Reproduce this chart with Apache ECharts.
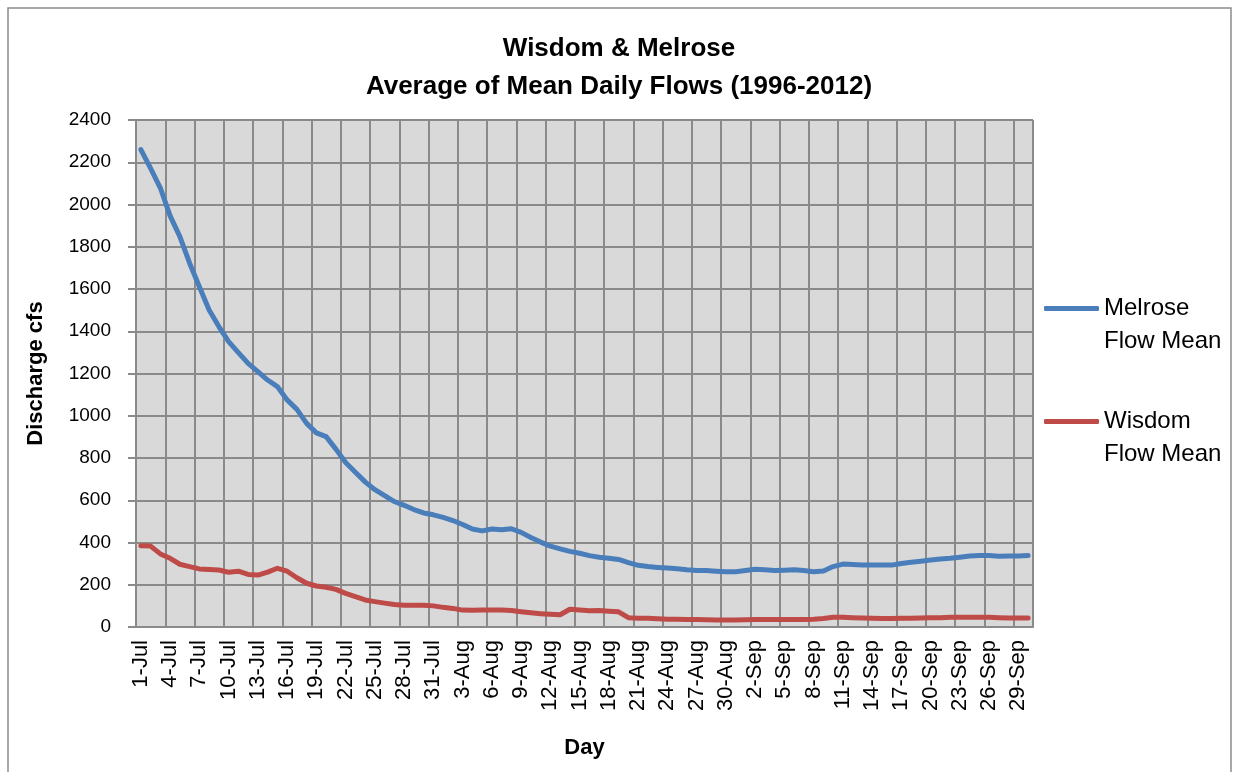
<!DOCTYPE html>
<html>
<head>
<meta charset="utf-8">
<title>Wisdom & Melrose - Average of Mean Daily Flows</title>
<script src="https://cdn.jsdelivr.net/npm/echarts@6/dist/echarts.min.js"></script>
<style>
  html, body { margin: 0; padding: 0; background: #ffffff; }
  #chart { width: 1238px; height: 772px; }
</style>
</head>
<body>
<div id="chart"></div>
<script>
// Days from 1 July to 30 September
const days = [
  '1-Jul','2-Jul','3-Jul','4-Jul','5-Jul','6-Jul','7-Jul','8-Jul','9-Jul','10-Jul',
  '11-Jul','12-Jul','13-Jul','14-Jul','15-Jul','16-Jul','17-Jul','18-Jul','19-Jul','20-Jul',
  '21-Jul','22-Jul','23-Jul','24-Jul','25-Jul','26-Jul','27-Jul','28-Jul','29-Jul','30-Jul','31-Jul',
  '1-Aug','2-Aug','3-Aug','4-Aug','5-Aug','6-Aug','7-Aug','8-Aug','9-Aug','10-Aug',
  '11-Aug','12-Aug','13-Aug','14-Aug','15-Aug','16-Aug','17-Aug','18-Aug','19-Aug','20-Aug',
  '21-Aug','22-Aug','23-Aug','24-Aug','25-Aug','26-Aug','27-Aug','28-Aug','29-Aug','30-Aug','31-Aug',
  '1-Sep','2-Sep','3-Sep','4-Sep','5-Sep','6-Sep','7-Sep','8-Sep','9-Sep','10-Sep',
  '11-Sep','12-Sep','13-Sep','14-Sep','15-Sep','16-Sep','17-Sep','18-Sep','19-Sep','20-Sep',
  '21-Sep','22-Sep','23-Sep','24-Sep','25-Sep','26-Sep','27-Sep','28-Sep','29-Sep','30-Sep'
];

// Mean daily discharge (cfs), averaged over 1996-2012
const melroseFlowMean = [
  2260, 2171, 2078, 1946, 1848, 1722, 1611, 1501, 1422, 1351,
  1299, 1248, 1209, 1169, 1138, 1075, 1030, 964, 919, 901,
  842, 779, 733, 687, 650, 622, 594, 576, 556, 540, 531,
  519, 504, 485, 464, 455, 464, 460, 465, 448, 424,
  402, 383, 370, 358, 349, 338, 330, 325, 320, 305,
  292, 286, 282, 279, 276, 271, 268, 267, 264, 261, 262,
  267, 273, 271, 268, 269, 271, 267, 262, 265, 286,
  298, 296, 293, 293, 293, 293, 301, 306, 311, 317,
  322, 325, 330, 336, 338, 338, 335, 336, 336, 339
];

const wisdomFlowMean = [
  385, 383, 346, 325, 297, 286, 275, 272, 270, 259,
  264, 249, 246, 260, 278, 264, 233, 207, 194, 188,
  178, 159, 144, 128, 120, 113, 107, 103, 103, 103, 100,
  93, 88, 80, 79, 80, 81, 80, 78, 72, 67,
  63, 60, 58, 84, 80, 77, 78, 75, 72, 44,
  42, 41, 39, 37, 37, 36, 36, 34, 33, 33, 33,
  34, 36, 36, 36, 36, 36, 36, 37, 40, 46,
  46, 44, 43, 41, 40, 40, 41, 41, 43, 44,
  44, 46, 46, 46, 46, 46, 44, 43, 43, 43
];

const seriesNames = ['Melrose\nFlow Mean', 'Wisdom\nFlow Mean'];
const titleLines = ['Wisdom & Melrose', 'Average of Mean Daily Flows (1996-2012)'];

const FONT = '"Liberation Sans", Arial, sans-serif';
const gridColor = '#8a8a8a';

const chart = echarts.init(document.getElementById('chart'), null, { renderer: 'canvas' });

chart.setOption({
  backgroundColor: '#ffffff',
  animation: false,
  graphic: [{
    type: 'rect',
    silent: true,
    shape: { x: 8, y: 8, width: 1223, height: 800 },
    style: { fill: 'none', stroke: '#8c8c8c', lineWidth: 1.5 }
  }],
  title: {
    text: titleLines.join('\n'),
    left: 'center',
    top: 25,
    textStyle: {
      fontFamily: FONT,
      fontWeight: 'bold',
      fontSize: 26,
      lineHeight: 38,
      color: '#000000'
    }
  },
  legend: {
    orient: 'vertical',
    left: 1044,
    top: 259,
    padding: 0,
    itemWidth: 55,
    itemHeight: 5,
    itemGap: 14,
    icon: 'roundRect',
    data: seriesNames,
    // a blank leading line keeps the first text line level with the legend stroke
    formatter: name => ' \n' + name,
    textStyle: {
      fontFamily: FONT,
      fontSize: 24,
      lineHeight: 33,
      color: '#000000'
    }
  },
  grid: {
    left: 136,
    right: 205,
    top: 120,
    bottom: 145,
    show: true,
    backgroundColor: '#d9d9d9',
    borderWidth: 0
  },
  xAxis: {
    type: 'category',
    data: days,
    boundaryGap: true,
    name: 'Day',
    nameLocation: 'middle',
    nameGap: 110,
    nameTextStyle: { fontFamily: FONT, fontWeight: 'bold', fontSize: 22, color: '#000000' },
    axisLine: { show: true, lineStyle: { color: gridColor, width: 2 } },
    axisTick: { show: false },
    axisLabel: {
      interval: 2,
      rotate: 90,
      margin: 13,
      fontFamily: FONT,
      fontSize: 22,
      color: '#000000'
    },
    splitLine: { show: true, interval: 2, lineStyle: { color: gridColor, width: 2 } }
  },
  yAxis: {
    type: 'value',
    min: 0,
    max: 2400,
    interval: 200,
    name: 'Discharge cfs',
    nameLocation: 'middle',
    nameGap: 89,
    nameRotate: 90,
    nameTextStyle: { fontFamily: FONT, fontWeight: 'bold', fontSize: 22, color: '#000000' },
    axisLine: { show: true, lineStyle: { color: gridColor, width: 2 } },
    axisTick: { show: true, length: 8, lineStyle: { color: gridColor, width: 2 } },
    axisLabel: {
      margin: 25,
      fontFamily: FONT,
      fontSize: 19,
      color: '#000000',
      formatter: v => String(v)
    },
    splitLine: { show: true, lineStyle: { color: gridColor, width: 2 } }
  },
  series: [
    {
      name: seriesNames[0],
      type: 'line',
      data: melroseFlowMean,
      symbol: 'none',
      smooth: false,
      color: '#4a7ebb',
      lineStyle: { color: '#4a7ebb', width: 5, cap: 'round', join: 'round' }
    },
    {
      name: seriesNames[1],
      type: 'line',
      data: wisdomFlowMean,
      symbol: 'none',
      smooth: false,
      color: '#be4b48',
      lineStyle: { color: '#be4b48', width: 5, cap: 'round', join: 'round' }
    }
  ]
});
</script>
</body>
</html>
